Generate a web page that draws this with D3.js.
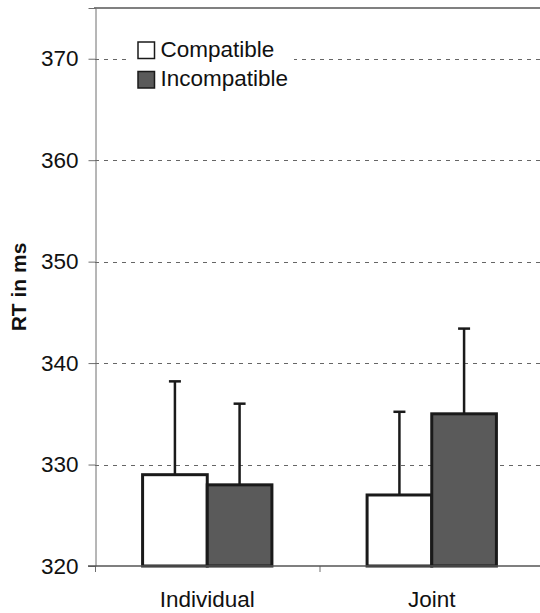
<!DOCTYPE html>
<html>
<head>
<meta charset="utf-8">
<script src="https://cdn.jsdelivr.net/npm/d3@7"></script>
<style>
  body { margin: 0; background: #fff; }
  text { font-family: "Liberation Sans", Arial, sans-serif; }
</style>
</head>
<body>
<div id="chart"></div>
<script>
// Chart data
const categories = ["Individual", "Joint"];
const series = ["Compatible", "Incompatible"];
const compatible = [329, 327];
const incompatible = [328, 335];
const compatibleErr = [9.2, 8.2];
const incompatibleErr = [8.0, 8.4];
const yTicks = [320, 330, 340, 350, 360, 370];

const width = 540, height = 613;
const margin = {top: 8, bottom: 47, left: 95, right: -4};

const rows = [];
categories.forEach((c, i) => {
  rows.push({cat: c, series: series[0], value: compatible[i], err: compatibleErr[i]});
  rows.push({cat: c, series: series[1], value: incompatible[i], err: incompatibleErr[i]});
});

const svg = d3.select("#chart")
  .append("svg")
  .attr("width", width)
  .attr("height", height)
  .style("background", "#fff");

const x0 = d3.scaleBand()
  .domain(categories)
  .range([margin.left, width - margin.right])
  .padding(0);

const x1 = d3.scaleBand()
  .domain(series)
  .range([0, x0.bandwidth()])
  .paddingInner(0)
  .paddingOuter(0.736);

const y = d3.scaleLinear()
  .domain([320, 375])
  .range([height - margin.bottom, margin.top]);

const color = d3.scaleOrdinal()
  .domain(series)
  .range(["#ffffff", "#5a5a5a"]);

// dashed gridlines
svg.append("g")
  .selectAll("line")
  .data(yTicks.filter(d => d > 320))
  .enter()
  .append("line")
  .attr("x1", margin.left)
  .attr("x2", width)
  .attr("y1", d => Math.round(y(d)) + 0.5)
  .attr("y2", d => Math.round(y(d)) + 0.5)
  .attr("stroke", "#666")
  .attr("stroke-width", 1)
  .attr("stroke-dasharray", "4,5");

// top border
svg.append("line")
  .attr("x1", margin.left - 1)
  .attr("x2", width)
  .attr("y1", margin.top)
  .attr("y2", margin.top)
  .attr("stroke", "#808080")
  .attr("stroke-width", 2);

// y axis
const yAxis = svg.append("g")
  .attr("transform", `translate(${margin.left + 0.5},0)`)
  .call(d3.axisLeft(y).tickValues(yTicks).tickSize(7).tickPadding(10));
yAxis.select(".domain").attr("stroke", "#6e6e6e");
yAxis.selectAll(".tick line").attr("stroke", "#6e6e6e");
yAxis.selectAll("text")
  .style("font-size", "22.5px")
  .attr("fill", "#111");

// left axis line continues slightly below the baseline
svg.append("line")
  .attr("x1", margin.left + 0.5)
  .attr("x2", margin.left + 0.5)
  .attr("y1", y(320))
  .attr("y2", y(320) + 6)
  .attr("stroke", "#6e6e6e");

// x axis ticks between categories
svg.append("g")
  .selectAll("line")
  .data(categories.slice(1))
  .enter()
  .append("line")
  .attr("x1", d => x0(d) + 0.5)
  .attr("x2", d => x0(d) + 0.5)
  .attr("y1", y(320))
  .attr("y2", y(320) + 6)
  .attr("stroke", "#6e6e6e");

// category labels
svg.append("g")
  .selectAll("text")
  .data(categories)
  .enter()
  .append("text")
  .attr("x", d => x0(d) + x0.bandwidth() / 2)
  .attr("y", 607)
  .attr("text-anchor", "middle")
  .style("font-size", "22.5px")
  .attr("fill", "#111")
  .text(d => d);

// error bars
const err = svg.append("g")
  .selectAll("g")
  .data(rows)
  .enter()
  .append("g")
  .attr("transform", d => `translate(${x0(d.cat) + x1(d.series) + x1.bandwidth() / 2},0)`);

err.append("line")
  .attr("y1", d => y(d.value))
  .attr("y2", d => y(d.value + d.err))
  .attr("stroke", "#1a1a1a")
  .attr("stroke-width", 2.5);

err.append("line")
  .attr("x1", -6)
  .attr("x2", 6)
  .attr("y1", d => y(d.value + d.err))
  .attr("y2", d => y(d.value + d.err))
  .attr("stroke", "#1a1a1a")
  .attr("stroke-width", 2.5);

// bars
svg.append("g")
  .selectAll("rect")
  .data(rows)
  .enter()
  .append("rect")
  .attr("x", d => x0(d.cat) + x1(d.series))
  .attr("y", d => y(d.value))
  .attr("width", x1.bandwidth())
  .attr("height", d => y(320) - y(d.value))
  .attr("fill", d => color(d.series))
  .attr("stroke", "#1a1a1a")
  .attr("stroke-width", 3);

// baseline
svg.append("line")
  .attr("x1", margin.left - 7)
  .attr("x2", width)
  .attr("y1", y(320))
  .attr("y2", y(320))
  .attr("stroke", "#555")
  .attr("stroke-width", 1.5);

// legend with white background hiding the gridline
const legend = svg.append("g")
  .attr("transform", "translate(138, 42)");

legend.append("rect")
  .attr("x", -8)
  .attr("y", -10)
  .attr("width", 164)
  .attr("height", 62)
  .attr("fill", "#fff");

series.forEach((s, i) => {
  legend.append("rect")
    .attr("x", 0)
    .attr("y", i * 29.5)
    .attr("width", 16.5)
    .attr("height", 16.5)
    .attr("fill", color(s))
    .attr("stroke", "#1a1a1a")
    .attr("stroke-width", 1.5);

  legend.append("text")
    .attr("x", 22.5)
    .attr("y", i * 29.5 + 14.5)
    .style("font-size", "22.5px")
    .attr("fill", "#111")
    .text(s);
});

// y axis label
svg.append("text")
  .attr("transform", "rotate(-90)")
  .attr("x", -287)
  .attr("y", 26)
  .attr("text-anchor", "middle")
  .style("font-size", "21px")
  .style("font-weight", "bold")
  .attr("fill", "#111")
  .text("RT in ms");
</script>
</body>
</html>
